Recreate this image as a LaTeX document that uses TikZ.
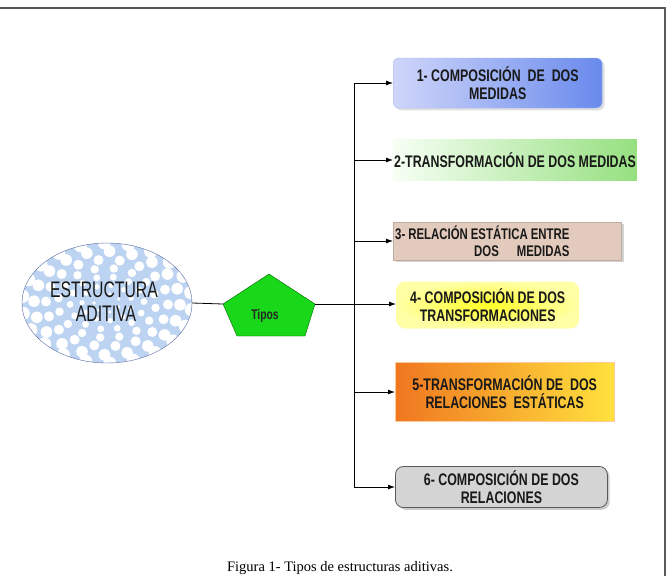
\documentclass[tikz,border=0pt]{standalone}
\usepackage{fontspec}
\setmainfont{Liberation Serif}
\newfontfamily\narrowsf[FakeStretch=0.74]{Liberation Sans}
\newfontfamily\ovalsf[FakeStretch=0.7]{Liberation Sans}
\usepackage{xcolor}
\usepackage{tikz}
\usetikzlibrary{shapes.geometric, shadows, arrows.meta, positioning}

\definecolor{celeste}{RGB}{188,212,242}
\definecolor{bordeazul}{RGB}{95,105,155}
\definecolor{verdetipo}{RGB}{25,215,25}
\definecolor{azulA}{RGB}{208,214,250}
\definecolor{azulB}{RGB}{105,138,236}
\definecolor{verdeA}{RGB}{246,255,244}
\definecolor{verdeB}{RGB}{150,224,128}
\definecolor{tostado}{RGB}{226,202,188}
\definecolor{naranjaA}{RGB}{240,118,32}
\definecolor{naranjaB}{RGB}{255,226,62}
\definecolor{gris}{RGB}{212,212,212}

\begin{document}
\begin{tikzpicture}[>={Latex[length=7pt,width=5pt]}, x=1pt, y=-1pt,
    caja/.style={anchor=west, inner sep=1pt, align=center, text=black!90,
        font=\narrowsf\bfseries\fontsize{16.75}{18.5}\selectfont},
    flecha/.style={->, line width=0.8pt}]
    \useasboundingbox (0,0) rectangle (669,576);

    % 1. Marco
    \draw[black!65, line width=1.2pt] (0,8) -- (665,8) -- (665,576);

    % 2. Elipse con puntos
    \node[ellipse, draw=bordeazul, fill=celeste, minimum width=170, minimum height=120] (estr) at (107,303) {};
    \begin{scope}
        \clip (107,303) ellipse (84.5 and 59.5);
        \foreach \r/\s/\n in {13/1.8/7, 25/2.6/11, 37/3.4/14, 49/4.2/16, 61/5/18, 73/5.8/20, 85/6.6/22, 97/7.4/24}
            \foreach \k in {1,...,\n}
                \fill[white] ({107+\r*cos(360*\k/\n+2*\r)}, {303+0.71*\r*sin(360*\k/\n+2*\r)}) circle (\s);
    \end{scope}
    \node[font=\ovalsf\fontsize{22.5}{24}\selectfont, align=center, text=black!90] (estrtxt) at (104,302)
        {ESTRUCTURA\\\hspace*{4pt}ADITIVA};

    % 3. Pentagono
    \coordinate (pl) at (223,304);
    \coordinate (pr) at (315,304);
    \draw[fill=verdetipo, draw=green!40!black] (269,274) -- (pr) -- (305,336) -- (237,336) -- (pl) -- cycle;
    \node[font=\narrowsf\bfseries\fontsize{14}{16}\selectfont, text=black!85] (tipos) at (265,316) {Tipos};
    \draw[line width=0.8pt] (estr.east) -- (pl);

    % 4. Cajas
    \node[caja, rounded corners=6pt, draw=azulB!60, left color=azulA, right color=azulB,
        minimum width=209, minimum height=50, drop shadow={opacity=0.25}] (b1) at (393,83)
        {1- COMPOSICIÓN\ \ DE\ \ DOS\\MEDIDAS};
    \node[caja, left color=verdeA, right color=verdeB, minimum width=242, minimum height=41] (b2) at (393,160)
        {2-TRANSFORMACIÓN DE DOS MEDIDAS};
    \node[caja, align=left, fill=tostado, draw=tostado!85!black, minimum width=228, minimum height=38,
        drop shadow={opacity=0.35}, text width=224,
        font=\narrowsf\bfseries\fontsize{15.4}{17.5}\selectfont] (b3) at (393,241)
        {\spaceskip=3pt 3- RELACIÓN ESTÁTICA ENTRE\\\hspace*{79pt}DOS\hspace{18pt}MEDIDAS};
    \node[caja, rounded corners=9pt, inner color=yellow!85!white, outer color=yellow!35!white,
        minimum width=183, minimum height=47] (b4) at (396,305)
        {4- COMPOSICIÓN DE DOS\\TRANSFORMACIONES};
    \node[caja, draw=orange!40, left color=naranjaA, right color=naranjaB,
        minimum width=219, minimum height=59] (b5) at (395,392)
        {5-TRANSFORMACIÓN DE\ \ DOS\\RELACIONES\ \ ESTÁTICAS};
    \node[caja, rounded corners=8pt, fill=gris, draw=black!65, line width=0.8pt,
        minimum width=212, minimum height=41, drop shadow={opacity=0.4}] (b6) at (395,487)
        {6- COMPOSICIÓN DE DOS\\RELACIONES};

    % 5. Conectores
    \coordinate (tr) at (354,304);
    \draw[flecha] (pr) -- (b4.west |- pr);
    \draw[line width=0.8pt] (tr |- b1.west) -- (tr |- b6.west);
    \foreach \b in {b1,b2,b3,b5,b6}
        \draw[flecha] (tr |- \b.west) -- (\b.west);

    % 6. Pie de figura
    \node[font=\fontsize{14.5}{17}\selectfont] (pie) at (340,568) {Figura 1- Tipos de estructuras aditivas.};
\end{tikzpicture}
\end{document}
